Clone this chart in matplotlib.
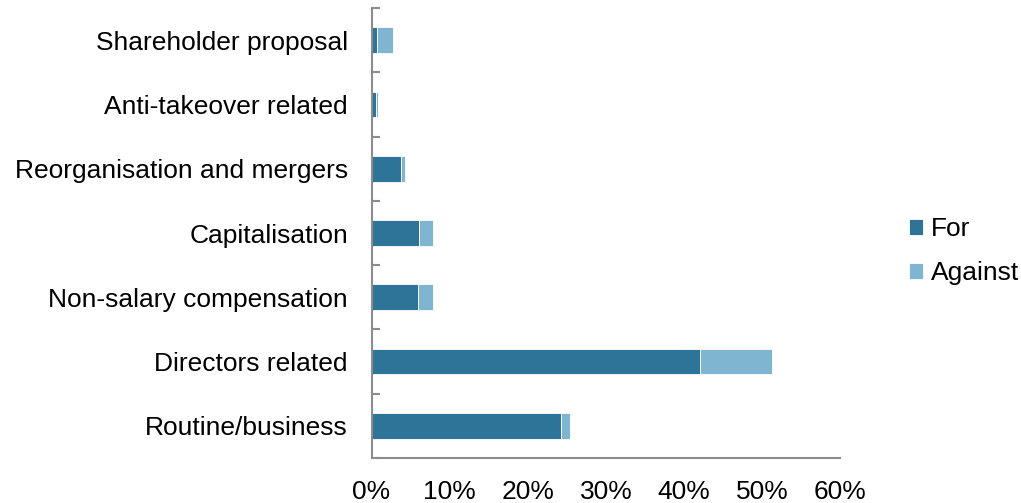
import matplotlib
matplotlib.use("Agg")
import matplotlib.pyplot as plt
from matplotlib.ticker import FuncFormatter, FixedLocator
import numpy as np

plt.rcParams['font.family'] = ['Liberation Sans', 'DejaVu Sans']

categories = [
    "Routine/business",
    "Directors related",
    "Non-salary compensation",
    "Capitalisation",
    "Reorganisation and mergers",
    "Anti-takeover related",
    "Shareholder proposal",
]
votes_for = [24.2, 42.0, 6.0, 6.1, 3.8, 0.6, 0.7]
votes_against = [1.2, 9.3, 1.9, 1.7, 0.45, 0.2, 2.1]
x_ticks = [0, 10, 20, 30, 40, 50, 60]

color_for = "#2E7398"
color_against = "#7FB5D0"
axis_gray = "#8C8C8C"

fig = plt.figure(figsize=(10.21, 5.03), dpi=100)
ax = fig.add_axes([0.3639, 0.0895, 0.4593, 0.8945])

y = np.arange(len(categories))
ax.barh(y, votes_for, height=0.4, color=color_for, edgecolor="white",
        linewidth=0.6, label="For")
ax.barh(y, votes_against, left=votes_for, height=0.4, color=color_against,
        edgecolor="white", linewidth=0.6, label="Against")

ax.set_xlim(0, 60)
ax.set_ylim(-0.5, len(categories) - 0.5)
ax.xaxis.set_major_locator(FixedLocator(x_ticks))
ax.xaxis.set_major_formatter(FuncFormatter(lambda v, _: f"{v:.0f}%"))
ax.set_yticks(y)
ax.set_yticklabels(categories)
ax.set_yticks(np.arange(-0.5, len(categories) - 0.5 + 0.01, 1.0), minor=True)

ax.tick_params(axis="x", length=0, labelsize=19, pad=15.5, colors="black")
ax.tick_params(axis="y", which="major", length=0, labelsize=19, pad=17)
ax.tick_params(axis="y", which="minor", direction="in", length=6,
               width=1.5, color=axis_gray)

for side in ("top", "right"):
    ax.spines[side].set_visible(False)
for side in ("left", "bottom"):
    ax.spines[side].set_color(axis_gray)
    ax.spines[side].set_linewidth(1.5)

ax.legend(loc="center left", bbox_to_anchor=(1.117, 0.46), frameon=False,
          fontsize=19, handlelength=0.55, handleheight=0.55, handletextpad=0.3,
          labelspacing=0.75, borderpad=0)

fig.savefig("out.png", dpi=100)
